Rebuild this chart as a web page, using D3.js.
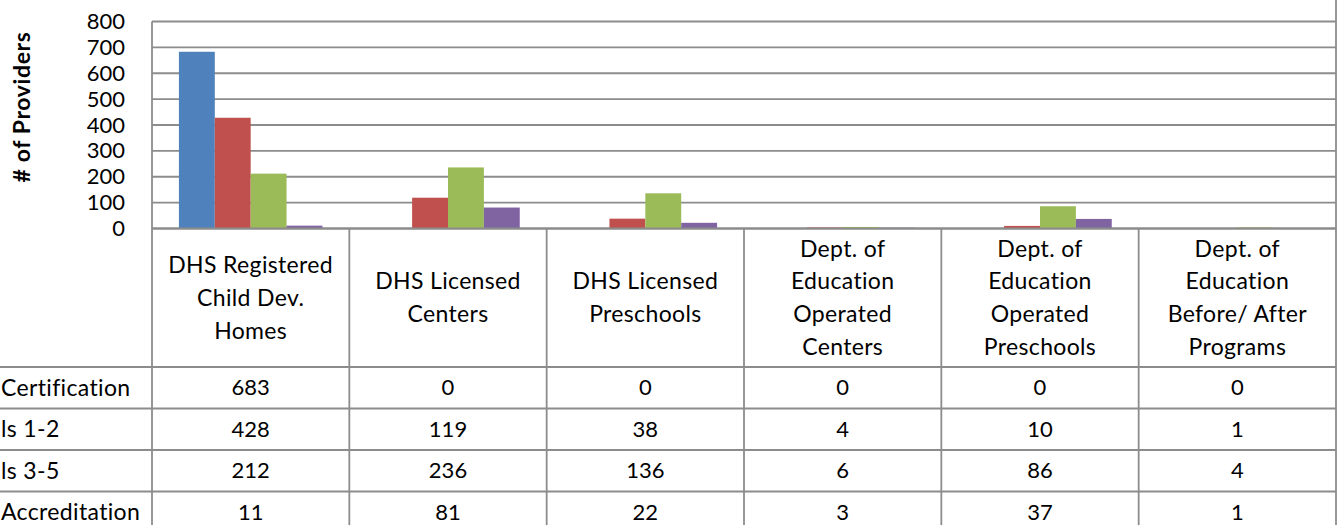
<!DOCTYPE html>
<html>
<head>
<meta charset="utf-8">
<script src="https://cdn.jsdelivr.net/npm/d3@7"></script>
<style>
  html, body { margin: 0; padding: 0; background: #fff; }
  svg { display: block; }
  text { font-family: Lato, "Open Sans", sans-serif; fill: #000; font-variant-ligatures: none; font-feature-settings: "liga" 0; }
</style>
</head>
<body>
<svg id="chart" width="1340" height="525"></svg>
<script>
// ---- data ----
const categories = [
  "DHS Registered\nChild Dev.\nHomes",
  "DHS Licensed\nCenters",
  "DHS Licensed\nPreschools",
  "Dept. of\nEducation\nOperated\nCenters",
  "Dept. of\nEducation\nOperated\nPreschools",
  "Dept. of\nEducation\nBefore/ After\nPrograms"
];
const seriesNames = ["Certification", "ls 1-2", "ls 3-5", "Accreditation"];
const certification = [683, 0, 0, 0, 0, 0];
const levels12 = [428, 119, 38, 4, 10, 1];
const levels35 = [212, 236, 136, 6, 86, 4];
const accreditation = [11, 81, 22, 3, 37, 1];
const yTicks = [0, 100, 200, 300, 400, 500, 600, 700, 800];
const yTitle = "# of Providers";
const colors = ["#4F81BD", "#C0504D", "#9BBB59", "#8064A2"];

const seriesValues = [certification, levels12, levels35, accreditation];

// ---- layout ----
const svg = d3.select("#chart");
const L = 152, R = 1336, T = 21.5, B = 228.5;
const headerBottom = 367, rowH = 41.5;
const lineColor = "#8c8c8c";
const wordSize = 23, numSize = 22, wordSpacing = 0.35;

const x0 = d3.scaleBand().domain(d3.range(categories.length)).range([L, R]).paddingInner(0).paddingOuter(0);
const step = x0.bandwidth();
const gap = step * 1.5 / 5.5;
const x1 = d3.scaleBand().domain(d3.range(seriesNames.length)).range([gap / 2, step - gap / 2]).padding(0);
const y = d3.scaleLinear().domain([0, 800]).range([B, T]);

// gridlines
const grid = svg.append("g");
grid.selectAll("line").data(yTicks).join("line")
  .attr("x1", L).attr("x2", R)
  .attr("y1", d => y(d)).attr("y2", d => y(d))
  .attr("stroke", lineColor).attr("stroke-width", 1.8);

// y-axis tick labels via d3 axis
const yAxis = d3.axisLeft(y).tickValues(yTicks).tickSize(0).tickPadding(0).tickFormat(d3.format("d"));
const ya = svg.append("g").attr("transform", `translate(${L - 27},0)`).call(yAxis);
ya.select(".domain").remove();
ya.selectAll("text").attr("font-family", "Lato, sans-serif").attr("font-size", numSize).attr("fill", "#000");

// y title
svg.append("text")
  .attr("transform", `translate(30,107) rotate(-90)`)
  .attr("text-anchor", "middle")
  .attr("font-weight", "bold")
  .attr("font-size", 23)
  .attr("letter-spacing", 0.6)
  .text(yTitle);

// bars
const bars = svg.append("g");
seriesValues.forEach((vals, si) => {
  bars.append("g").selectAll("rect").data(vals).join("rect")
    .attr("x", (d, i) => x0(i) + x1(si))
    .attr("width", x1.bandwidth())
    .attr("y", d => y(d))
    .attr("height", d => Math.max(0, B - y(d)))
    .attr("fill", colors[si]);
});

// axis line redraw on top
svg.append("line").attr("x1", L).attr("x2", R).attr("y1", B).attr("y2", B)
  .attr("stroke", lineColor).attr("stroke-width", 1.8);

// data table
const nRows = seriesNames.length;
const tableBottom = headerBottom + rowH * nRows;
const tbl = svg.append("g");
const vx = d3.range(categories.length + 1).map(i => i < categories.length ? x0(i) : R);
tbl.selectAll("line.v").data(vx).join("line").attr("class", "v")
  .attr("x1", d => d).attr("x2", d => d)
  .attr("y1", (d, i) => (i === 0 ? T : (i === categories.length ? 0 : B)))
  .attr("y2", tableBottom)
  .attr("stroke", lineColor).attr("stroke-width", 1.8);
const hy = d3.range(nRows + 1).map(i => headerBottom + i * rowH);
tbl.selectAll("line.h").data(hy).join("line").attr("class", "h")
  .attr("x1", 0).attr("x2", R)
  .attr("y1", d => d).attr("y2", d => d)
  .attr("stroke", lineColor).attr("stroke-width", 1.8);

// header labels
const lineH = 32.7;
categories.forEach((c, i) => {
  const lines = c.split("\n");
  const cy = (B + headerBottom) / 2;
  const t = tbl.append("text")
    .attr("text-anchor", "middle")
    .attr("font-size", wordSize)
    .attr("letter-spacing", wordSpacing);
  lines.forEach((ln, k) => {
    t.append("tspan").attr("x", x0(i) + step / 2)
      .attr("y", cy - (lines.length - 1) * lineH / 2 + k * lineH)
      .attr("dy", "0.35em").text(ln);
  });
});

// row labels and values
seriesNames.forEach((name, r) => {
  const cy = headerBottom + r * rowH + rowH / 2;
  tbl.append("text").attr("x", 1).attr("y", cy).attr("dy", "0.35em")
    .attr("font-size", wordSize).attr("letter-spacing", wordSpacing).text(name);
  seriesValues[r].forEach((v, i) => {
    tbl.append("text").attr("x", x0(i) + step / 2).attr("y", cy).attr("dy", "0.35em")
      .attr("text-anchor", "middle").attr("font-size", numSize).text(v);
  });
});
</script>
</body>
</html>
